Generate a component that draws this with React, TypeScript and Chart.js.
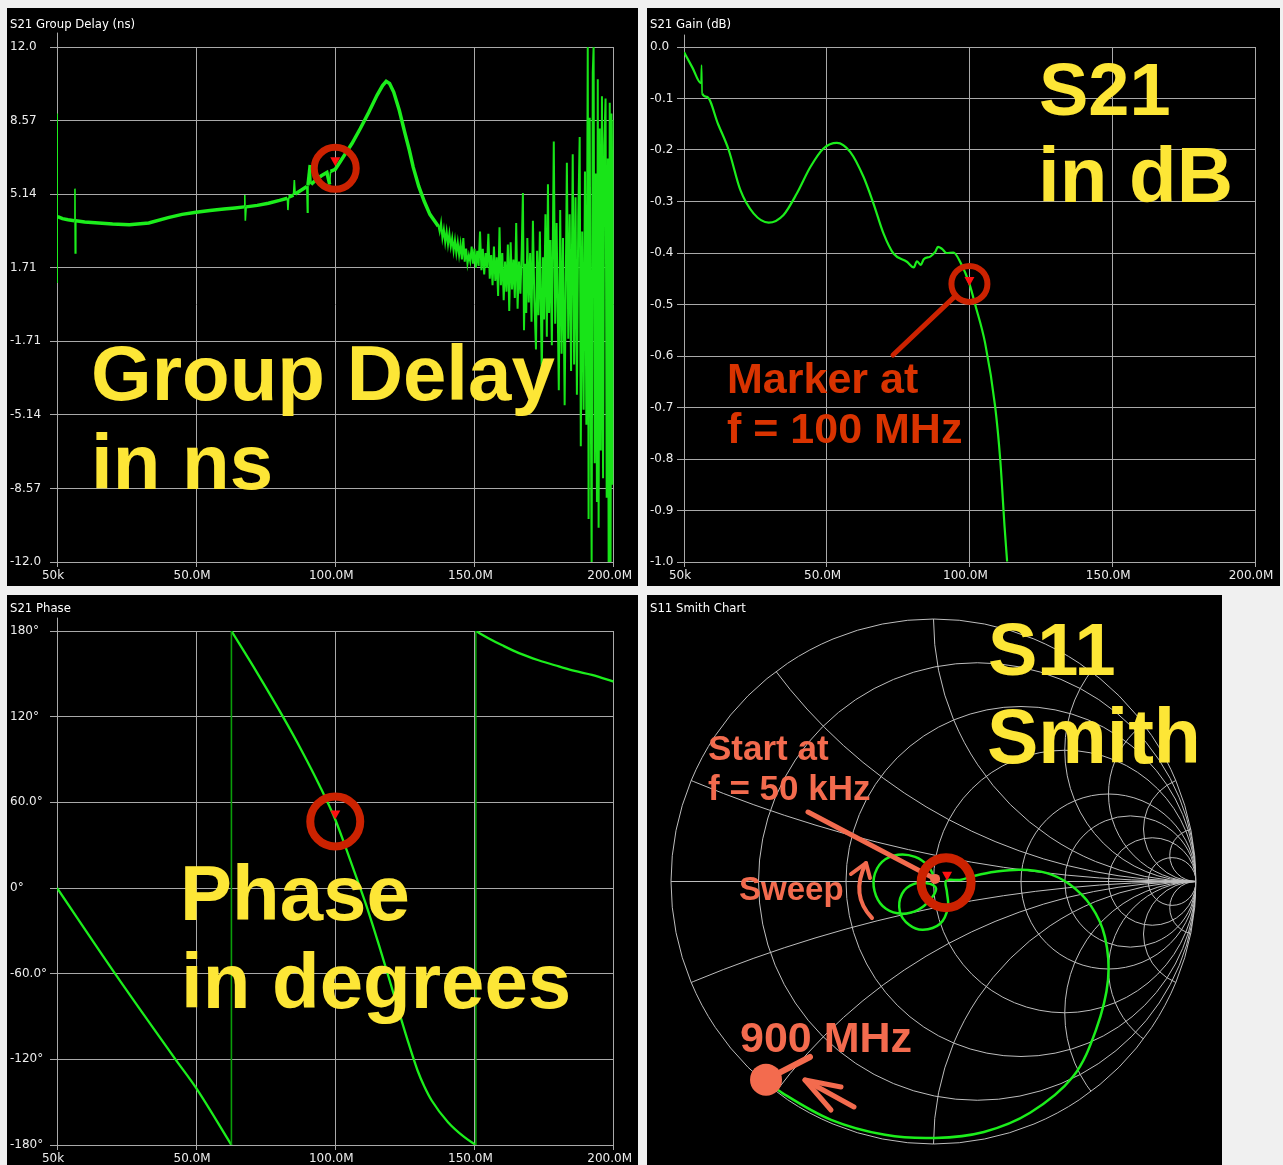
import React, { useEffect, useRef } from "react";
import { Chart, registerables } from "chart.js";

Chart.register(...registerables);

// ---------------- data ----------------
const freqTicks = [0.05, 50, 100, 150, 200];
const freqTickLabels = ["50k", "50.0M", "100.0M", "150.0M", "200.0M"];
const markerFreq = 100;

// S21 group delay (ns)
const gdTicks = [12, 8.5714, 5.1429, 1.7143, -1.7143, -5.1429, -8.5714, -12];
const gdTickLabels = ["12.0", "8.57", "5.14", "1.71", "-1.71", "-5.14", "-8.57", "-12.0"];
const gdTrendFreq = [0.05, 0.05, 0.05, 0.3, 2, 4, 6.3, 6.5, 6.6, 6.8, 10, 15, 20, 26, 33, 40, 45, 50, 55, 60, 64, 67.3, 67.5, 67.7, 68, 72, 76, 80, 82.8, 83, 83.3, 85, 85.3, 85.6, 88, 89.8, 90, 90.2, 91, 91.3, 93, 95, 97, 98, 98.3, 100, 102, 104, 106, 109, 112, 115, 117, 118.3, 119.5, 121, 123, 125, 126.6, 128, 130, 132, 134, 137];
const gdTrendValues = [4.0, 8.9, 1.0, 4.1, 4.0, 3.95, 3.9, 5.4, 2.4, 3.9, 3.85, 3.8, 3.75, 3.72, 3.8, 4.05, 4.2, 4.3, 4.38, 4.45, 4.5, 4.55, 5.1, 3.9, 4.55, 4.62, 4.72, 4.85, 4.95, 4.4, 5.0, 5.1, 5.8, 5.15, 5.35, 5.5, 4.3, 5.55, 6.5, 5.6, 5.8, 6.0, 6.15, 5.6, 6.2, 6.3, 6.7, 7.1, 7.5, 8.2, 8.95, 9.75, 10.2, 10.4, 10.3, 9.9, 9.05, 8.0, 7.2, 6.4, 5.5, 4.8, 4.2, 3.65];
const gdNoiseFreq = [137.0, 137.5, 138.0, 138.5, 139.0, 139.5, 140.0, 140.5, 141.0, 141.5, 142.0, 142.5, 143.0, 143.5, 144.0, 144.5, 145.0, 145.5, 146.0, 146.5, 147.0, 147.5, 148.0, 148.5, 149.0, 149.5, 150.0, 150.5, 151.0, 151.5, 152.0, 152.5, 153.0, 153.5, 154.0, 154.5, 155.0, 155.5, 156.0, 156.5, 157.0, 157.5, 158.0, 158.5, 159.0, 159.5, 160.0, 160.5, 161.0, 161.5, 162.0, 162.5, 163.0, 163.5, 164.0, 164.5, 165.0, 165.5, 166.0, 166.5, 167.0, 167.4, 167.8, 168.2, 168.6, 169.0, 169.5, 170.0, 170.5, 171.0, 171.5, 172.1, 172.5, 173.0, 173.5, 174.2, 174.6, 175.0, 175.5, 176.0, 176.4, 176.8, 177.3, 177.8, 178.5, 179.0, 179.5, 180.3, 180.8, 181.3, 181.8, 182.4, 183.2, 183.7, 184.2, 184.7, 185.3, 185.8, 186.3, 186.8, 187.3, 187.8, 188.2, 188.7, 189.2, 189.7, 190.2, 190.7, 191.0, 191.4, 191.8, 192.1, 192.5, 192.8, 193.2, 193.6, 194.0, 194.3, 194.6, 195.0, 195.4, 195.8, 196.2, 196.6, 197.1, 197.5, 197.9, 198.2, 198.6, 198.9, 199.2, 199.6, 200.0];
const gdNoiseValues = [3.7, 3.4, 3.8, 3.1, 3.5, 2.9, 3.4, 2.8, 3.3, 2.7, 3.1, 2.5, 3.0, 2.4, 2.9, 2.3, 2.8, 2.1, 3.1, 2.0, 2.6, 1.9, 2.3, 2.0, 2.7, 1.9, 2.6, 1.7, 2.5, 1.8, 3.4, 1.6, 2.6, 1.4, 2.4, 1.7, 3.3, 1.2, 2.3, 0.9, 2.7, 1.1, 2.2, 0.4, 3.6, 0.9, 2.4, 0.2, 2.0, 0.6, 2.8, -0.3, 2.9, 0.7, 2.1, 0.3, 3.8, -0.2, 2.0, 0.5, 2.6, 5.2, -1.2, 1.9, -0.4, 3.1, 0.1, 2.4, -0.8, 3.9, 0.3, -2.1, 2.5, -0.5, 3.4, -3.4, 2.2, -0.7, 4.2, -1.5, 5.6, -0.4, 3.0, -1.9, 7.6, -0.9, 3.8, -4.0, 4.4, -2.3, 3.1, -4.7, 6.6, -1.6, 4.2, -3.1, 7.0, -2.8, 5.0, -4.2, 4.1, 7.8, -6.6, 3.4, -4.9, 6.2, -5.6, 12.0, -10.0, 8.7, -4.6, -12.0, 10.8, 12.0, -7.4, 6.1, -9.2, 10.5, -10.4, 8.2, -6.8, 9.7, -8.1, 7.4, 9.6, -9.0, 6.8, -12.0, 9.4, -12.0, 8.9, -8.4, 8.6];

// S21 gain (dB)
const gainTicks = [0, -0.1, -0.2, -0.3, -0.4, -0.5, -0.6, -0.7, -0.8, -0.9, -1.0];
const gainTickLabels = ["0.0", "-0.1", "-0.2", "-0.3", "-0.4", "-0.5", "-0.6", "-0.7", "-0.8", "-0.9", "-1.0"];
const gainFreq = [0.05, 3, 6, 6.2, 6.4, 8.1, 12, 15.7, 19.8, 24.4, 29.7, 34.9, 39.6, 44.3, 48.9, 53.6, 58.3, 62.9, 66.4, 69.9, 73.4, 78.1, 80.5, 81.6, 83, 84, 86.3, 88, 89, 90.4, 92, 94.4, 97, 100, 102, 105.5, 109, 110.8, 112.3, 113.2];
const gainValues = [-0.01, -0.04, -0.07, -0.035, -0.09, -0.097, -0.15, -0.2, -0.278, -0.323, -0.341, -0.326, -0.284, -0.233, -0.197, -0.186, -0.204, -0.252, -0.304, -0.362, -0.401, -0.417, -0.428, -0.416, -0.423, -0.412, -0.407, -0.398, -0.388, -0.392, -0.4, -0.399, -0.42, -0.46, -0.5, -0.575, -0.698, -0.802, -0.931, -0.999];

// S21 phase (degrees), one array pair per unwrapped branch
const phaseTicks = [180, 120, 60, 0, -60, -120, -180];
const phaseTickLabels = ["180°", "120°", "60.0°", "0°", "-60.0°", "-120°", "-180°"];
const phaseSeg1Freq = [0.05, 20.9, 42.6, 50, 62.7];
const phaseSeg1Values = [0, -60, -120, -140, -180];
const phaseSeg2Freq = [62.7, 72, 81.2, 88, 94.3, 100, 104, 108.6, 111.3, 115.7, 120.8, 125.9, 129.6, 132, 134.7, 140.5, 146.4, 150.5];
const phaseSeg2Values = [180, 150.5, 120, 96, 72, 48, 27, 2, -13, -40, -73, -106, -128, -139, -149, -164, -174.5, -180];
const phaseSeg3Freq = [150.5, 155, 160, 166, 173, 180.3, 186, 192.2, 196, 200];
const phaseSeg3Values = [180, 175, 170, 164.5, 159.5, 155.2, 152, 149.3, 147, 144.6];
const phaseWrapFreq = [62.7, 150.5];

// S11 Smith chart (reflection coefficient)
const smithResistances = [0.2, 0.5, 1, 2, 3, 5, 10];
const smithReactances = [0.2, 0.5, 1, 2, 3, 5, 10];
const s11Re = [0.006, -0.021, -0.07, -0.135, -0.196, -0.227, -0.219, -0.181, -0.12, -0.059, -0.013, 0.01, -0.013, -0.074, -0.12, -0.128, -0.093, -0.04, 0.025, 0.055, 0.051, 0.048, 0.101, 0.158, 0.234, 0.33, 0.429, 0.516, 0.6, 0.653, 0.665, 0.619, 0.531, 0.368, 0.192, 0.006, -0.185, -0.39, -0.577, -0.638];
const s11Im = [0.01, 0.06, 0.094, 0.102, 0.075, 0.014, -0.054, -0.104, -0.123, -0.108, -0.07, -0.028, -0.009, -0.009, -0.047, -0.115, -0.165, -0.184, -0.161, -0.1, -0.039, 0.003, 0.006, 0.022, 0.037, 0.045, 0.033, -0.009, -0.093, -0.211, -0.374, -0.565, -0.744, -0.881, -0.954, -0.977, -0.965, -0.908, -0.805, -0.755];
const s11MarkerIndex = 21;

// ---------------- styles ----------------
const GRID = "#a9a9a9";
const TICK = "#ececec";
const GREEN = "#1cee1c";
const DARK_GREEN = "#0a9d0a";
const YELLOW = "#fde636";
const RING = "#cc2200";
const MARK = "#ff1010";
const RED_TEXT = "#d93300";
const SALMON = "#f36b4e";
const TICK_FONT = { family: '"DejaVu Sans", sans-serif', size: 12 };

const zip = (xs: number[], ys: number[]) => xs.map((x, i) => ({ x, y: ys[i] }));

function drawText(ctx: CanvasRenderingContext2D, s: string, x: number, y: number, size: number, color: string) {
  ctx.save();
  ctx.font = `bold ${size}px "Liberation Sans", Arial, sans-serif`;
  ctx.fillStyle = color;
  ctx.textAlign = "left";
  ctx.textBaseline = "alphabetic";
  ctx.fillText(s, x, y);
  ctx.restore();
}

function drawTitle(ctx: CanvasRenderingContext2D, s: string, y: number) {
  ctx.save();
  ctx.font = '11.7px "DejaVu Sans", sans-serif';
  ctx.fillStyle = "#ffffff";
  ctx.textAlign = "left";
  ctx.textBaseline = "alphabetic";
  ctx.fillText(s, 3, y);
  ctx.restore();
}

function drawRing(ctx: CanvasRenderingContext2D, x: number, y: number, r: number, w: number) {
  ctx.save();
  ctx.beginPath();
  ctx.arc(x, y, r, 0, Math.PI * 2);
  ctx.strokeStyle = RING;
  ctx.lineWidth = w;
  ctx.stroke();
  ctx.restore();
}

function drawTriangle(ctx: CanvasRenderingContext2D, x: number, tipY: number) {
  ctx.save();
  ctx.beginPath();
  ctx.moveTo(x - 5, tipY - 9);
  ctx.lineTo(x + 5, tipY - 9);
  ctx.lineTo(x, tipY);
  ctx.closePath();
  ctx.fillStyle = MARK;
  ctx.fill();
  ctx.restore();
}

function strokeLine(ctx: CanvasRenderingContext2D, pts: number[][], color: string, w: number) {
  ctx.save();
  ctx.beginPath();
  ctx.moveTo(pts[0][0], pts[0][1]);
  for (let i = 1; i < pts.length; i++) ctx.lineTo(pts[i][0], pts[i][1]);
  ctx.strokeStyle = color;
  ctx.lineWidth = w;
  ctx.lineCap = "round";
  ctx.lineJoin = "round";
  ctx.stroke();
  ctx.restore();
}

interface RectSpec {
  title: string;
  titleY: number;
  datasets: any[];
  yMin: number;
  yMax: number;
  yTicks: number[];
  yLabels: string[];
  pad: { left: number; right: number; top: number; bottom: number };
  yAxisWidth: number;
  xAxisHeight: number;
  axisExtend: number;
  overlay: (chart: any, ctx: CanvasRenderingContext2D) => void;
}

function makeRectChart(canvas: HTMLCanvasElement, s: RectSpec) {
  return new Chart(canvas, {
    type: "line",
    data: { datasets: s.datasets },
    options: {
      responsive: false,
      animation: false,
      events: [],
      layout: { padding: s.pad },
      plugins: { legend: { display: false }, tooltip: { enabled: false } },
      elements: { point: { radius: 0 } },
      scales: {
        x: {
          type: "linear",
          min: 0.05,
          max: 200,
          afterBuildTicks: (sc: any) => {
            sc.ticks = freqTicks.map((v) => ({ value: v }));
          },
          afterFit: (sc: any) => {
            sc.height = s.xAxisHeight;
          },
          grid: { color: GRID, lineWidth: 1, tickLength: 5, drawTicks: true },
          border: { color: GRID, width: 1 },
          ticks: {
            color: TICK,
            font: TICK_FONT,
            padding: 2,
            autoSkip: false,
            maxRotation: 0,
            labelOffset: -4,
            callback: (_v: any, i: number) => freqTickLabels[i],
          },
        },
        y: {
          type: "linear",
          min: s.yMin,
          max: s.yMax,
          afterBuildTicks: (sc: any) => {
            sc.ticks = s.yTicks.map((v) => ({ value: v }));
          },
          afterFit: (sc: any) => {
            sc.width = s.yAxisWidth;
          },
          grid: { color: GRID, lineWidth: 1, tickLength: 7 },
          border: { color: GRID, width: 1 },
          ticks: {
            color: TICK,
            font: TICK_FONT,
            crossAlign: "far",
            autoSkip: false,
            callback: (_v: any, i: number) => s.yLabels[i],
          },
        },
      },
    },
    plugins: [
      {
        id: "overlay",
        afterDraw: (chart: any) => {
          const ctx = chart.ctx as CanvasRenderingContext2D;
          const a = chart.chartArea;
          drawTitle(ctx, s.title, s.titleY);
          const ax = Math.round(a.left) + 0.5;
          strokeLine(ctx, [[ax, a.top - s.axisExtend], [ax, a.top]], GRID, 1);
          s.overlay(chart, ctx);
        },
      },
    ],
  } as any);
}

// thin strokes for the near-vertical spike segments
const spikeWidth = (c: any) => (Math.abs(c.p1.parsed.x - c.p0.parsed.x) < 0.35 ? 1.6 : undefined);

function makeGroupDelay(canvas: HTMLCanvasElement) {
  return makeRectChart(canvas, {
    title: "S21 Group Delay (ns)",
    titleY: 20,
    datasets: [
      {
        data: zip(gdTrendFreq, gdTrendValues),
        borderColor: GREEN,
        borderWidth: 3.5,
        pointRadius: 0,
        tension: 0,
        segment: { borderWidth: spikeWidth },
      },
      { data: zip(gdNoiseFreq, gdNoiseValues), borderColor: "#18e418", borderWidth: 2, pointRadius: 0, tension: 0 },
    ],
    yMin: -12,
    yMax: 12,
    yTicks: gdTicks,
    yLabels: gdTickLabels,
    pad: { left: 3, right: 23, top: 39, bottom: 2 },
    yAxisWidth: 47,
    xAxisHeight: 22,
    axisExtend: 14,
    overlay: (chart, ctx) => {
      drawText(ctx, "Group Delay", 84, 392, 78, YELLOW);
      drawText(ctx, "in ns", 84, 481, 78, YELLOW);
      const i = gdTrendFreq.indexOf(markerFreq);
      const px = chart.scales.x.getPixelForValue(markerFreq);
      const py = chart.scales.y.getPixelForValue(gdTrendValues[i]);
      drawRing(ctx, px, py - 1, 21, 7);
      drawTriangle(ctx, px, py - 3);
    },
  });
}

function makeGain(canvas: HTMLCanvasElement) {
  return makeRectChart(canvas, {
    title: "S21 Gain (dB)",
    titleY: 20,
    datasets: [
      {
        data: zip(gainFreq, gainValues),
        borderColor: GREEN,
        borderWidth: 2.2,
        pointRadius: 0,
        cubicInterpolationMode: "monotone",
        segment: { borderWidth: spikeWidth },
      },
    ],
    yMin: -1,
    yMax: 0,
    yTicks: gainTicks,
    yLabels: gainTickLabels,
    pad: { left: 3, right: 25, top: 39, bottom: 2 },
    yAxisWidth: 34,
    xAxisHeight: 22,
    axisExtend: 12,
    overlay: (chart, ctx) => {
      drawText(ctx, "S21", 392, 107, 74, YELLOW);
      drawText(ctx, "in dB", 391, 194, 78, YELLOW);
      drawText(ctx, "Marker at", 80, 385, 43, RED_TEXT);
      drawText(ctx, "f = 100 MHz", 80, 435, 43, RED_TEXT);
      const i = gainFreq.indexOf(markerFreq);
      const px = chart.scales.x.getPixelForValue(markerFreq);
      const py = chart.scales.y.getPixelForValue(gainValues[i]);
      strokeLine(ctx, [[246, 347], [px - 14, py + 12]], RING, 5);
      drawRing(ctx, px, py, 18, 6);
      drawTriangle(ctx, px, py + 2);
    },
  });
}

function makePhase(canvas: HTMLCanvasElement) {
  const branch = (f: number[], v: number[]) => ({
    data: zip(f, v),
    borderColor: GREEN,
    borderWidth: 2.3,
    pointRadius: 0,
    cubicInterpolationMode: "monotone",
  });
  const wraps = phaseWrapFreq.map((f) => ({
    data: [
      { x: f, y: -180 },
      { x: f, y: 180 },
    ],
    borderColor: DARK_GREEN,
    borderWidth: 1.6,
    pointRadius: 0,
  }));
  return makeRectChart(canvas, {
    title: "S21 Phase",
    titleY: 17,
    datasets: [
      ...wraps,
      branch(phaseSeg1Freq, phaseSeg1Values),
      branch(phaseSeg2Freq, phaseSeg2Values),
      branch(phaseSeg3Freq, phaseSeg3Values),
    ],
    yMin: -180,
    yMax: 180,
    yTicks: phaseTicks,
    yLabels: phaseTickLabels,
    pad: { left: 3, right: 23, top: 36, bottom: 0 },
    yAxisWidth: 47,
    xAxisHeight: 20,
    axisExtend: 13,
    overlay: (chart, ctx) => {
      drawText(ctx, "Phase", 173, 325, 78, YELLOW);
      drawText(ctx, "in degrees", 174, 413, 78, YELLOW);
      const i = phaseSeg2Freq.indexOf(markerFreq);
      const px = chart.scales.x.getPixelForValue(markerFreq);
      const py = chart.scales.y.getPixelForValue(phaseSeg2Values[i]);
      drawRing(ctx, px, py + 2, 25, 8);
      drawTriangle(ctx, px, py);
    },
  });
}

function makeSmith(canvas: HTMLCanvasElement) {
  return new Chart(canvas, {
    type: "scatter",
    data: {
      datasets: [
        {
          data: zip(s11Re, s11Im),
          showLine: true,
          borderColor: GREEN,
          borderWidth: 2.5,
          pointRadius: 0,
          tension: 0.35,
        },
      ],
    },
    options: {
      responsive: false,
      animation: false,
      events: [],
      layout: { padding: { left: 24, right: 26, top: 24, bottom: 21 } },
      plugins: { legend: { display: false }, tooltip: { enabled: false } },
      scales: {
        x: { type: "linear", min: -1, max: 1, display: false },
        y: { type: "linear", min: -1, max: 1, display: false },
      },
    },
    plugins: [
      {
        id: "smithGrid",
        beforeDatasetsDraw: (chart: any) => {
          const ctx = chart.ctx as CanvasRenderingContext2D;
          const xs = chart.scales.x;
          const ys = chart.scales.y;
          const cx = xs.getPixelForValue(0);
          const cy = ys.getPixelForValue(0);
          const R = xs.getPixelForValue(1) - cx;
          ctx.save();
          ctx.strokeStyle = "#bdbdbd";
          ctx.lineWidth = 1;
          ctx.beginPath();
          ctx.arc(cx, cy, R, 0, Math.PI * 2);
          ctx.stroke();
          ctx.beginPath();
          ctx.arc(cx, cy, R, 0, Math.PI * 2);
          ctx.clip();
          ctx.beginPath();
          ctx.moveTo(cx - R, cy);
          ctx.lineTo(cx + R, cy);
          ctx.stroke();
          for (const r of smithResistances) {
            ctx.beginPath();
            ctx.arc(cx + (R * r) / (1 + r), cy, R / (1 + r), 0, Math.PI * 2);
            ctx.stroke();
          }
          for (const xv of smithReactances) {
            for (const sgn of [1, -1]) {
              ctx.beginPath();
              ctx.arc(cx + R, cy - (sgn * R) / xv, R / xv, 0, Math.PI * 2);
              ctx.stroke();
            }
          }
          ctx.restore();
        },
        afterDraw: (chart: any) => {
          const ctx = chart.ctx as CanvasRenderingContext2D;
          const xs = chart.scales.x;
          const ys = chart.scales.y;
          drawTitle(ctx, "S11 Smith Chart", 17);
          drawText(ctx, "S11", 341, 80, 74, YELLOW);
          drawText(ctx, "Smith", 340, 168, 77, YELLOW);
          drawText(ctx, "Start at", 61, 165, 35, SALMON);
          drawText(ctx, "f = 50 kHz", 61, 205, 35, SALMON);
          drawText(ctx, "Sweep", 92, 305, 33, SALMON);
          drawText(ctx, "900 MHz", 93, 457, 43, SALMON);

          const sx = xs.getPixelForValue(s11Re[0]);
          const sy = ys.getPixelForValue(s11Im[0]);
          strokeLine(ctx, [[161, 217], [sx, sy]], SALMON, 5);
          ctx.save();
          ctx.beginPath();
          ctx.arc(sx, sy, 5, 0, Math.PI * 2);
          ctx.fillStyle = SALMON;
          ctx.fill();
          ctx.restore();

          // sweep arrow
          ctx.save();
          ctx.beginPath();
          ctx.moveTo(225, 323);
          ctx.quadraticCurveTo(203, 300, 219, 268);
          ctx.strokeStyle = SALMON;
          ctx.lineWidth = 4;
          ctx.lineCap = "round";
          ctx.stroke();
          ctx.restore();
          strokeLine(ctx, [[204, 279], [219, 268], [223, 283]], SALMON, 4);

          // end point (900 MHz)
          const n = s11Re.length - 1;
          const ex = xs.getPixelForValue(s11Re[n]);
          const ey = ys.getPixelForValue(s11Im[n]);
          strokeLine(ctx, [[ex, ey], [163, 462]], SALMON, 6);
          ctx.save();
          ctx.beginPath();
          ctx.arc(ex, ey, 16, 0, Math.PI * 2);
          ctx.fillStyle = SALMON;
          ctx.fill();
          ctx.restore();
          strokeLine(ctx, [[207, 512], [158, 485]], SALMON, 5);
          strokeLine(ctx, [[194, 492], [158, 485], [184, 515]], SALMON, 5);

          // marker at 100 MHz
          const mx = xs.getPixelForValue(s11Re[s11MarkerIndex]);
          const my = ys.getPixelForValue(s11Im[s11MarkerIndex]);
          drawRing(ctx, mx, my + 2, 25, 9);
          drawTriangle(ctx, mx + 1, my);
        },
      },
    ],
  } as any);
}

function ChartPanel(props: { left: number; top: number; width: number; height: number; make: (c: HTMLCanvasElement) => Chart }) {
  const ref = useRef<HTMLCanvasElement>(null);
  useEffect(() => {
    const chart = props.make(ref.current as HTMLCanvasElement);
    return () => chart.destroy();
  }, []);
  return (
    <div
      style={{
        position: "absolute",
        left: props.left,
        top: props.top,
        width: props.width,
        height: props.height,
        background: "#000000",
        overflow: "hidden",
      }}
    >
      <canvas
        ref={ref}
        width={props.width}
        height={props.height}
        style={{ display: "block", width: props.width, height: props.height }}
      />
    </div>
  );
}

export default function App() {
  return (
    <div
      style={{
        position: "fixed",
        left: 0,
        top: 0,
        width: 1283,
        height: 1165,
        background: "#f0f0f0",
        overflow: "hidden",
      }}
    >
      <ChartPanel left={7} top={8} width={631} height={578} make={makeGroupDelay} />
      <ChartPanel left={647} top={8} width={633} height={578} make={makeGain} />
      <ChartPanel left={7} top={595} width={631} height={570} make={makePhase} />
      <ChartPanel left={647} top={595} width={575} height={570} make={makeSmith} />
    </div>
  );
}
